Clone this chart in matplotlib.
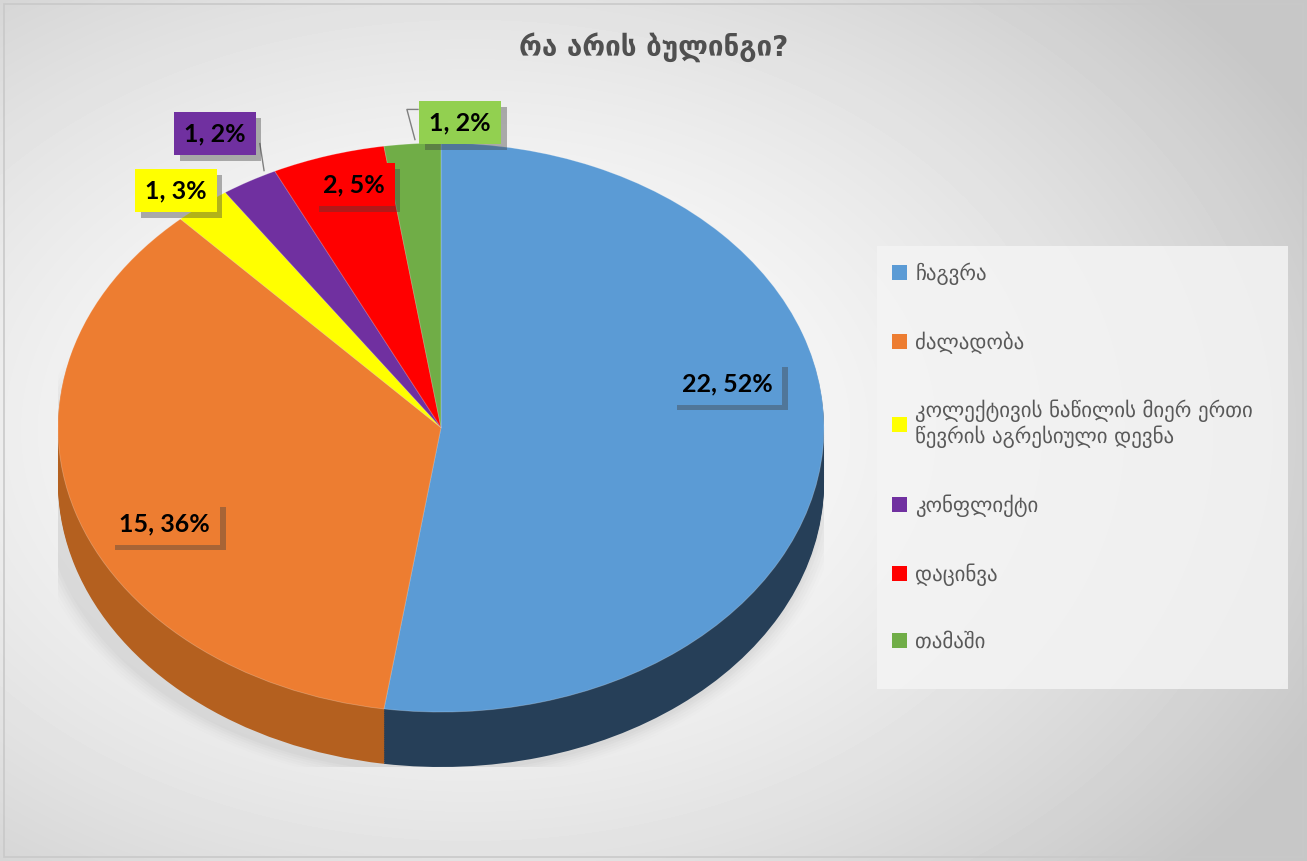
import numpy as np
import matplotlib
matplotlib.use('Agg')
import matplotlib.pyplot as plt
from matplotlib.patches import Rectangle, Patch, Ellipse
import matplotlib.patheffects as pe

plt.rcParams['font.family'] = ['DejaVu Sans']

title = 'რა არის ბულინგი?'
categories = ['ჩაგვრა', 'ძალადობა',
              'კოლექტივის ნაწილის მიერ ერთი\nწევრის აგრესიული დევნა',
              'კონფლიქტი', 'დაცინვა', 'თამაში']
values = [22, 15, 1, 1, 2, 1]
percent_labels = ['52%', '36%', '3%', '2%', '5%', '2%']

colors = ['#5b9bd5', '#ed7d31', '#ffff00', '#7030a0', '#ff0000', '#70ad47']
side_colors = ['#263f58', '#b4601f', '#a6a600', '#4a2070', '#a60000', '#4a7a2e']
label_colors = ['#5b9bd5', '#ed7d31', '#ffff00', '#7030a0', '#ff0000', '#92d050']
# label centres in pie data units (layout only)
label_pos = [(0.747, 0.155), (-0.721, -0.337), (-0.692, 0.833),
             (-0.590, 1.033), (-0.227, 0.854), (0.050, 1.072)]

W, H = 1307, 861
fig = plt.figure(figsize=(W / 100, H / 100), dpi=100)

# background gradient
bg = fig.add_axes([0, 0, 1, 1])
bg.axis('off')
yy, xx = np.mgrid[0:H, 0:W]
r = np.hypot((xx - 470) / 950, (yy - 430) / 650)
grad = 1 - 0.22 * np.clip(r, 0, 1) ** 1.6
bg.imshow(grad, cmap='gray', vmin=0, vmax=1, extent=(0, 1, 0, 1),
          aspect='auto', interpolation='bilinear')
bg.set_xlim(0, 1)
bg.set_ylim(0, 1)
bg.add_patch(Rectangle((4 / W, 4 / H), 1 - 8 / W, 1 - 8 / H, fill=False,
                       ec='#c9c9c9', lw=1.2))

fig.text(654 / W, 1 - 47 / H, title, ha='center', va='center', fontsize=20,
         fontweight='bold', color='#505050')

# pie
depth = 0.193
ax = fig.add_axes([58 / W, 1 - 767 / H, 766 / W, 624 / H])
ax.axis('off')

# soft shadow under the pie
for k, a in zip(np.linspace(0, 0.08, 6), np.linspace(0.05, 0.02, 6)):
    ax.add_patch(Ellipse((-0.02, -depth - 0.02), 2.04 + k, 2.0 + k,
                         fc='#909090', ec='none', alpha=a, zorder=0))

for off in np.linspace(depth, 0.005, 30):
    ax.pie(values, colors=side_colors, startangle=90, counterclock=False,
           center=(0, -off), radius=1,
           wedgeprops=dict(linewidth=0, edgecolor='none'))
ax.pie(values, colors=colors, startangle=90, counterclock=False,
       center=(0, 0), radius=1,
       wedgeprops=dict(linewidth=0.6, edgecolor=(1, 1, 1, 0.25)))

ax.set_aspect('auto')
ax.set_xlim(-1, 1)
ax.set_ylim(-1 - depth, 1)

# leader lines for the two small outside labels
ax.plot([-0.473, -0.462], [0.998, 0.903], color='#7f7f7f', lw=1, clip_on=False)
ax.plot([-0.060, -0.089, -0.068], [1.118, 1.118, 1.012], color='#7f7f7f', lw=1,
        clip_on=False)

for v, p, c, (x, y) in zip(values, percent_labels, label_colors, label_pos):
    t = ax.text(x, y, f'{v}, {p}', ha='center', va='center', fontsize=18,
                fontweight='bold', family=['Lato', 'DejaVu Sans'], color='black',
                bbox=dict(boxstyle='square,pad=0.4', fc=c, ec='none'),
                clip_on=False, zorder=6)
    t.get_bbox_patch().set_path_effects([
        pe.withSimplePatchShadow(offset=(4, -4), shadow_rgbFace='#404040', alpha=0.4)])

# legend
bg.add_patch(Rectangle((877 / W, 1 - 689 / H), 411 / W, 443 / H,
                       fc='#f4f4f4', ec='none', alpha=0.85))
handles = [Patch(fc=c, ec='none') for c in colors]
fig.legend(handles, categories, loc='upper left',
           bbox_to_anchor=(884 / W, 1 - 254 / H), frameon=False,
           fontsize=15, labelcolor='#595959', labelspacing=2.22,
           handlelength=0.7, handleheight=0.7, handletextpad=0.4,
           borderaxespad=0)

fig.savefig('out.png', dpi=100)
